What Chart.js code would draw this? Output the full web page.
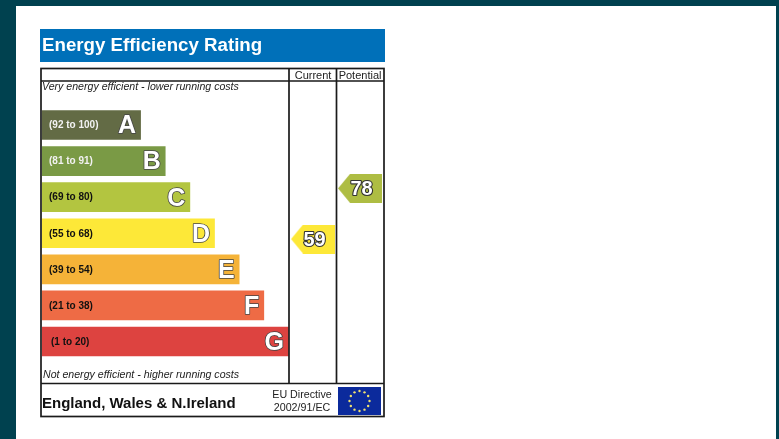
<!DOCTYPE html>
<html>
<head>
<meta charset="utf-8">
<style>
html,body{margin:0;padding:0;background:#00414f;overflow:hidden}
canvas{display:block;filter:blur(0.35px)}
</style>
<script src="https://cdn.jsdelivr.net/npm/chart.js@4/dist/chart.umd.min.js"></script>
</head>
<body>
<canvas id="c" width="779" height="439"></canvas>
<script>
const titleText = 'Energy Efficiency Rating';
const bandLetters = ['A','B','C','D','E','F','G'];
const bandRanges = ['(92 to 100)','(81 to 91)','(69 to 80)','(55 to 68)','(39 to 54)','(21 to 38)','(1 to 20)'];
const bandLengths = [4,5,6,7,8,9,10];
const bandColors = ['#636b45','#7a9a45','#b3c540','#fde838','#f5b338','#ee6b45','#dd4340'];
const rangeTextColors = ['#f2f2f2','#f2f2f2','#111111','#111111','#111111','#111111','#111111'];
const columnNames = ['Current','Potential'];
const columnIndex = [1,2];
const scores = [59,78];
const scoreColors = ['#fde838','#aebd43'];
const topNote = 'Very energy efficient - lower running costs';
const bottomNote = 'Not energy efficient - higher running costs';
const regionText = 'England, Wales & N.Ireland';
const directiveLines = ['EU Directive','2002/91/EC'];

const SANS = '"Liberation Sans", Arial, sans-serif';

function arrowSprite(color){
  const w = 44, h = 29, off = document.createElement('canvas');
  off.width = w; off.height = h;
  const g = off.getContext('2d');
  g.fillStyle = color;
  g.beginPath();
  g.moveTo(0,h/2); g.lineTo(12,0); g.lineTo(w,0); g.lineTo(w,h); g.lineTo(12,h);
  g.closePath(); g.fill();
  return off;
}

const sheet = {
  id:'sheet',
  beforeDraw(chart){
    const g = chart.ctx;
    g.save();
    g.fillStyle = '#00414f'; g.fillRect(0,0,779,439);
    g.fillStyle = '#ffffff'; g.fillRect(16,6,760,433);
    g.fillStyle = '#0070b9'; g.fillRect(40,29,345,33);
    g.fillStyle = '#ffffff';
    g.font = 'bold 18.7px '+SANS; g.textAlign='left'; g.textBaseline='alphabetic';
    g.fillText(titleText,42,50.5);
    g.restore();
  },
  afterDraw(chart){
    const g = chart.ctx;
    g.save();
    g.strokeStyle = '#1a1a1a'; g.lineWidth = 1.7;
    g.strokeRect(41,68.5,343,348);
    g.beginPath();
    g.moveTo(41,81); g.lineTo(384,81);
    g.moveTo(41,383.5); g.lineTo(384,383.5);
    g.moveTo(289,68); g.lineTo(289,383.5);
    g.moveTo(336.5,68); g.lineTo(336.5,383.5);
    g.stroke();
    g.fillStyle = '#222222'; g.font = '11px '+SANS; g.textAlign='center'; g.textBaseline='alphabetic';
    const colMeta = chart.getDatasetMeta(1).data;
    columnNames.forEach((n,i)=>g.fillText(n,colMeta[i].x,79));
    g.textAlign='left'; g.font='italic 10.6px '+SANS;
    g.fillText(topNote,42,90);
    g.fillText(bottomNote,43,378);
    g.fillStyle='#111111'; g.font='bold 15px '+SANS;
    g.fillText(regionText,42,407.5);
    g.fillStyle='#222222'; g.font='10.7px '+SANS; g.textAlign='center';
    directiveLines.forEach((t,i)=>g.fillText(t,302,398+i*13));
    g.fillStyle='#0b2a9c'; g.fillRect(338,387,43,28);
    g.fillStyle='#efe070';
    for(let i=0;i<12;i++){
      const a=i*Math.PI/6;
      g.beginPath(); g.arc(359.5+10*Math.cos(a),401+10*Math.sin(a),1.2,0,Math.PI*2); g.fill();
    }
    const bars = chart.getDatasetMeta(0).data;
    bars.forEach((b,i)=>{
      g.textAlign='left'; g.textBaseline='middle';
      g.font='bold 10px '+SANS; g.fillStyle=rangeTextColors[i];
      g.fillText(bandRanges[i], i===6?51:49, b.y+0.5);
      g.textAlign='right';
      g.font='bold 25px '+SANS;
      g.lineJoin='round'; g.lineWidth=1.6; g.strokeStyle='#444444';
      g.strokeText(bandLetters[i],b.x-4.5,b.y+1.5);
      g.fillStyle='#ffffff';
      g.fillText(bandLetters[i],b.x-4.5,b.y+1.5);
    });
    colMeta.forEach((p,i)=>{
      g.textAlign='center'; g.textBaseline='middle';
      g.font='bold 20px '+SANS;
      g.lineJoin='round'; g.lineWidth=2.2; g.strokeStyle='#333333';
      g.strokeText(String(scores[i]),p.x+1.5,p.y+1);
      g.fillStyle='#ffffff';
      g.fillText(String(scores[i]),p.x+1.5,p.y+1);
    });
    g.restore();
  }
};

new Chart(document.getElementById('c'),{
  data:{
    labels:bandLetters,
    datasets:[
      {type:'bar',data:bandLengths,backgroundColor:bandColors,borderWidth:0,barThickness:29,grouped:false,xAxisID:'x',yAxisID:'y',order:2},
      {type:'scatter',
       data:scores.map((s,i)=>({x:columnIndex[i],y:s})),
       pointStyle:scoreColors.map(arrowSprite),
       xAxisID:'xCol',yAxisID:'yScore',order:1,clip:false}
    ]
  },
  options:{
    indexAxis:'y',
    responsive:false,
    animation:false,
    events:[],
    devicePixelRatio:1,
    layout:{padding:{left:42,right:396.4,top:107,bottom:79.5}},
    plugins:{legend:{display:false},tooltip:{enabled:false},title:{display:false}},
    scales:{
      x:{type:'linear',display:false,min:0,max:13.82},
      y:{type:'category',display:false},
      xCol:{type:'linear',display:false,axis:'x',min:-4.766,max:2.48},
      yScore:{type:'linear',display:false,axis:'y',min:13.85,max:108.5}
    }
  },
  plugins:[sheet]
});
</script>
</body>
</html>
